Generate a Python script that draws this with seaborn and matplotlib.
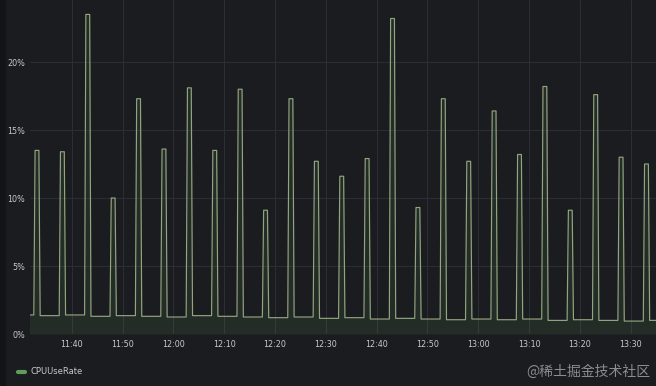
import numpy as np
import pandas as pd
import matplotlib
matplotlib.use("Agg")
import matplotlib.pyplot as plt
from matplotlib.lines import Line2D
import seaborn as sns

# ---- data ----
spike_times = ["11:32:45", "11:37:45", "11:42:45", "11:47:45", "11:52:45", "11:57:45",
               "12:02:45", "12:07:45", "12:12:45", "12:17:45", "12:22:45", "12:27:45",
               "12:32:45", "12:37:45", "12:42:45", "12:47:45", "12:52:45", "12:57:45",
               "13:02:45", "13:07:45", "13:12:45", "13:17:45", "13:22:45", "13:27:45",
               "13:32:45"]
spike_values = [13.5, 13.4, 23.5, 10.0, 17.3, 13.6, 18.1, 13.5, 18.0, 9.1, 17.3, 12.7,
                11.6, 12.9, 23.2, 9.3, 17.3, 12.7, 16.4, 13.2, 18.2, 9.1, 17.6, 13.0, 12.5]
# baseline level after each spike (segment 0 = before the first spike)
baseline_levels = [1.40, 1.35, 1.40, 1.30, 1.35, 1.30, 1.25, 1.35, 1.30, 1.25, 1.20, 1.25,
                   1.15, 1.20, 1.10, 1.15, 1.10, 1.05, 1.10, 1.05, 1.10, 1.00, 1.05, 1.00,
                   0.95, 1.00]
tick_labels = ["11:40", "11:50", "12:00", "12:10", "12:20", "12:30", "12:40", "12:50",
               "13:00", "13:10", "13:20", "13:30"]
y_ticks = [0, 5, 10, 15, 20]
series_name = "CPUUseRate"

# ---- build the time series (15 s samples) ----
day = "2023-01-01 "
t_index = pd.date_range(day + "11:31:30", day + "13:35:00", freq="15s")
spk = pd.to_datetime([day + s for s in spike_times])
vals = np.empty(len(t_index))
for i, t in enumerate(t_index):
    seg = int(np.searchsorted(spk, t, side="right"))
    vals[i] = baseline_levels[seg]
for s, v in zip(spk, spike_values):
    m = (t_index >= s) & (t_index < s + pd.Timedelta(seconds=60))
    vals[m] = v
df = pd.DataFrame({"time": t_index, series_name: vals})

# ---- style ----
bg = "#1b1c20"
sns.set_theme(style="dark")
plt.rcParams["font.family"] = ["DejaVu Sans"]

fig = plt.figure(figsize=(6.56, 3.86), dpi=100)
fig.patch.set_facecolor(bg)

# left darker panel edge
fig.patches.append(plt.Rectangle((0, 0), 5 / 656, 1, transform=fig.transFigure,
                                 color="#131418", zorder=-1))

ax = fig.add_axes([30 / 656, 1 - 334 / 386, 626 / 656, 334 / 386])
ax.set_facecolor(bg)

line_col = "#93a47f"
sns.lineplot(data=df, x="time", y=series_name, ax=ax, color=line_col, linewidth=0.85,
             legend=False)
ax.fill_between(df["time"], 0, df[series_name], color="#73bf69", alpha=0.10, linewidth=0)

ax.set_xlim(pd.Timestamp(day + "11:31:45"), pd.Timestamp(day + "13:35:00"))
ax.set_ylim(0, 24.56)
ax.set_xticks(pd.to_datetime([day + s for s in tick_labels]))
ax.set_xticklabels(tick_labels)
ax.set_yticks(y_ticks)
ax.set_yticklabels([f"{v}%" for v in y_ticks])
ax.grid(True, color="#2c2e33", linewidth=0.8)
ax.set_xlabel("")
ax.set_ylabel("")
for sp in ax.spines.values():
    sp.set_visible(False)
ax.tick_params(axis="both", length=0, colors="#c7c8ca", labelsize=5.8)
ax.tick_params(axis="x", pad=4)
ax.tick_params(axis="y", pad=3.5)

handle = Line2D([], [], color="#73bf69", linewidth=3, alpha=0.8)
fig.legend([handle], [series_name], loc="center left", bbox_to_anchor=(10 / 656, 1 - 372 / 386),
           frameon=False, handlelength=0.9, handletextpad=0.7, fontsize=6.0,
           labelcolor="#c7c8ca")

fig.text(650 / 656, 1 - 372 / 386, "@稀土掘金技术社区", ha="right", va="center",
         fontsize=10, color="#8c8d90", family=["Noto Sans CJK SC", "DejaVu Sans"])

fig.savefig("out.png", dpi=100, facecolor=bg)
